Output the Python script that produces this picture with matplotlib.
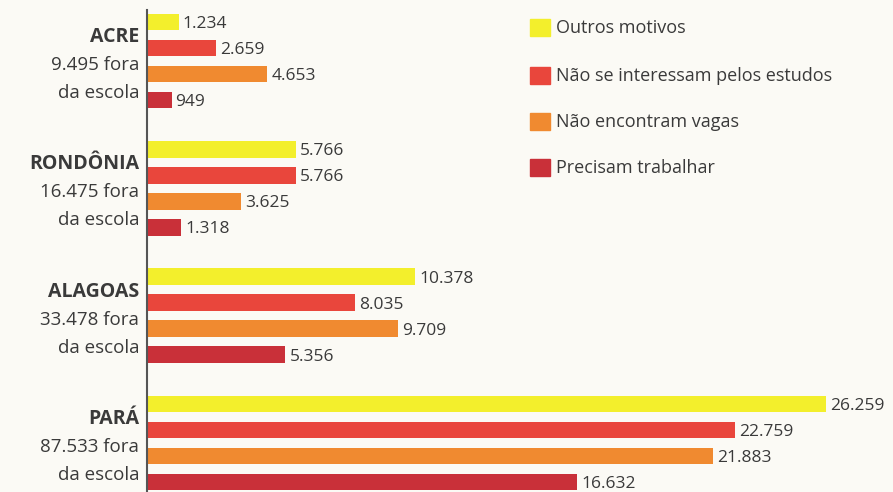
import matplotlib.pyplot as plt
from matplotlib.patches import Rectangle

plt.rcParams['font.family'] = ['Open Sans', 'DejaVu Sans']

# data
states = ["ACRE", "RONDÔNIA", "ALAGOAS", "PARÁ"]
totals = ["9.495", "16.475", "33.478", "87.533"]
reasons = ["Outros motivos", "Não se interessam pelos estudos",
           "Não encontram vagas", "Precisam trabalhar"]
outros = [1234, 5766, 10378, 26259]
interesse = [2659, 5766, 8035, 22759]
vagas = [4653, 3625, 9709, 21883]
trabalhar = [949, 1318, 5356, 16632]

series = [outros, interesse, vagas, trabalhar]
colours = ["#f3ef2c", "#e9463c", "#f08a30", "#c93039"]
bg = "#fbfaf5"
txt = "#3a3a3a"

W, H = 893, 492
fig = plt.figure(figsize=(W / 100, H / 100), dpi=100, facecolor=bg)
x0 = 147
ax = fig.add_axes([x0 / W, 0, 1 - x0 / W, 1])
ax.set_facecolor(bg)

px_per_unit = 679 / 26259.0
ax.set_xlim(0, (W - x0) / px_per_unit)
ax.set_ylim(H, 0)  # y in pixel rows, top down

group_step = 127.3
bar_step = 26
first = 22
bar_h = 16.5

for g, state in enumerate(states):
    base = first + g * group_step
    for i, vals in enumerate(series):
        y = base + i * bar_step
        v = vals[g]
        ax.barh(y, v, height=bar_h, color=colours[i], edgecolor='none')
        ax.text(v + 4 / px_per_unit, y + 2, format(v, ",").replace(",", "."),
                va='center', ha='left', fontsize=12.5, color=txt)
    # state labels to the left of the axis
    lx = 139 / W
    fig.text(lx, 1 - (base + 15) / H, state, ha='right', va='center',
             fontsize=14, fontweight='bold', color=txt)
    fig.text(lx, 1 - (base + 43) / H, totals[g] + " fora", ha='right',
             va='center', fontsize=13.5, color=txt)
    fig.text(lx, 1 - (base + 71) / H, "da escola", ha='right',
             va='center', fontsize=13.5, color=txt)

for s in ax.spines.values():
    s.set_visible(False)
ax.set_xticks([])
ax.set_yticks([])
ax.plot([0, 0], [10, H], color="#555555", lw=1.5, clip_on=False)

# legend drawn by hand
leg_rows = [28, 76, 122, 168]
for lab, c, yc in zip(reasons, colours, leg_rows):
    fig.patches.append(Rectangle((530 / W, 1 - (yc + 8) / H), 20 / W, 17 / H,
                                 transform=fig.transFigure, color=c))
    fig.text(556 / W, 1 - yc / H, lab, ha='left', va='center',
             fontsize=13, color=txt)

fig.savefig("out.png", dpi=100, facecolor=bg)
